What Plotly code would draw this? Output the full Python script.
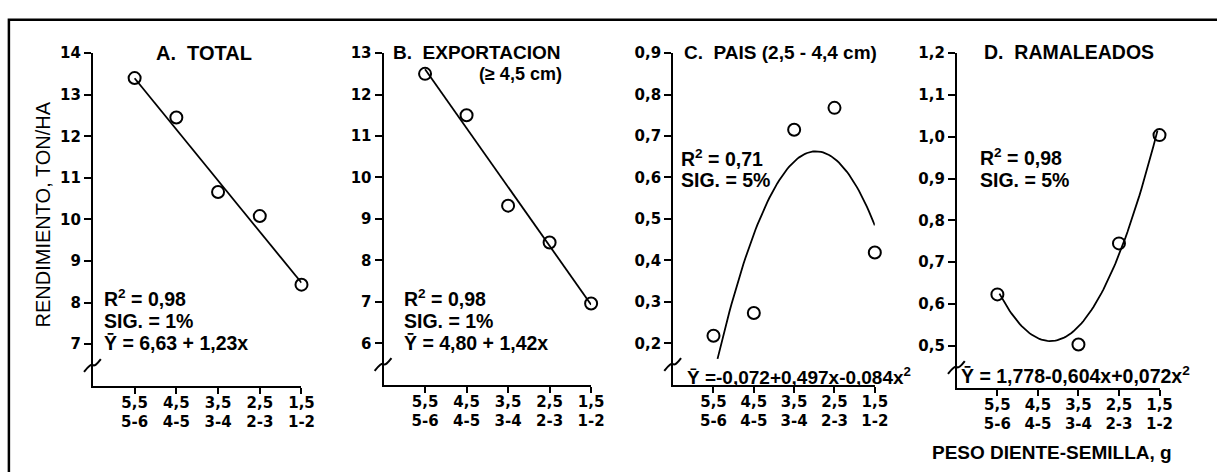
import numpy as np
import plotly.graph_objects as go

W, H = 1217, 472

# ---------------- data ----------------
weights = [5.5, 4.5, 3.5, 2.5, 1.5]
weight_labels = ["5,5", "4,5", "3,5", "2,5", "1,5"]
weight_ranges = ["5-6", "4-5", "3-4", "2-3", "1-2"]

total = [13.4, 12.45, 10.66, 10.08, 8.43]
exportacion = [12.5, 11.5, 9.32, 8.43, 6.96]
pais = [0.218, 0.273, 0.715, 0.768, 0.419]
ramaleados = [0.623, None, 0.503, 0.745, 1.004]

# regression coefficients printed on the chart (c0 + c1*x + c2*x^2)
fit_total = [6.63, 1.23]
fit_export = [4.80, 1.42]
fit_pais = [-0.072, 0.497, -0.084]
fit_ram = [1.778, -0.604, 0.072]
fit_spans = [(5.5, 1.5), (5.5, 1.5), (5.4, 1.5), (5.45, 1.55)]

yticks_total = [7, 8, 9, 10, 11, 12, 13, 14]
yticks_export = [6, 7, 8, 9, 10, 11, 12, 13]
yticks_pais = [0.2, 0.3, 0.4, 0.5, 0.6, 0.7, 0.8, 0.9]
yticks_ram = [0.5, 0.6, 0.7, 0.8, 0.9, 1.0, 1.1, 1.2]

panels = [
    dict(y=total, fit=fit_total, yticks=yticks_total, yrange=[6, 14], fmt="{:.0f}",
         box=(94, 305, 45, 384)),
    dict(y=exportacion, fit=fit_export, yticks=yticks_export, yrange=[5, 13], fmt="{:.0f}",
         box=(388, 598, 45, 383)),
    dict(y=pais, fit=fit_pais, yticks=yticks_pais, yrange=[0.1, 0.9], fmt="{:.1f}",
         box=(681, 885, 45, 383)),
    dict(y=ramaleados, fit=fit_ram, yticks=yticks_ram, yrange=[0.4, 1.2], fmt="{:.1f}",
         box=(968, 1173, 45, 386)),
]

FONT = "Liberation Sans"
TICKFONT = "DejaVu Sans"


def px(x):
    return x / W


def py(y):
    return 1 - y / H


fig = go.Figure()
layout = dict(
    width=W, height=H, margin=dict(l=0, r=0, t=0, b=0),
    paper_bgcolor="white", plot_bgcolor="white", showlegend=False,
    font=dict(family=FONT, color="black"),
)
shapes = []

for i, p in enumerate(panels):
    n = "" if i == 0 else str(i + 1)
    xa, ya = "x" + n, "y" + n
    x0, x1, yt, yb = p["box"]
    fig.add_trace(go.Scatter(
        x=weights, y=p["y"], xaxis=xa, yaxis=ya, mode="markers",
        marker=dict(symbol="circle-open", size=12, color="black",
                    line=dict(width=2, color="black")),
        cliponaxis=False, hoverinfo="skip"))
    xs = np.linspace(fit_spans[i][0], fit_spans[i][1], 80)
    ys = sum(c * xs ** k for k, c in enumerate(p["fit"]))
    fig.add_trace(go.Scatter(
        x=xs, y=ys, xaxis=xa, yaxis=ya, mode="lines",
        line=dict(color="black", width=1.8), cliponaxis=False, hoverinfo="skip"))
    layout["xaxis" + n] = dict(
        domain=[px(x0), px(x1)], range=[6.5, 1.5], anchor=ya,
        tickvals=weights,
        ticktext=[f"{a}<br>{b}" for a, b in zip(weight_labels, weight_ranges)],
        ticks="outside", ticklen=6, tickwidth=2, tickcolor="black",
        ticklabelstandoff=-4,
        showline=True, linewidth=2, linecolor="black",
        showgrid=False, zeroline=False,
        tickfont=dict(family=TICKFONT, size=15, color="black", weight="bold"),
    )
    layout["yaxis" + n] = dict(
        domain=[py(yb), py(yt)], range=p["yrange"], anchor=xa,
        tickvals=p["yticks"],
        ticktext=[p["fmt"].format(v).replace(".", ",") for v in p["yticks"]],
        ticks="outside", ticklen=7, tickwidth=2, tickcolor="black",
        showline=True, linewidth=2, linecolor="black",
        showgrid=False, zeroline=False,
        tickfont=dict(family=TICKFONT, size=15, color="black", weight="bold"),
    )
    # axis break mark
    bx, by = x0, yb - 21
    shapes.append(dict(
        type="path", xref="paper", yref="paper",
        path=f"M {px(bx-9)},{py(by+7)} Q {px(bx-2)},{py(by-2)} {px(bx)},{py(by)} T {px(bx+8)},{py(by-6)}",
        line=dict(color="black", width=2)))

# frame
shapes.append(dict(type="rect", xref="paper", yref="paper",
                   x0=px(9), x1=1.02, y0=-0.02, y1=py(11),
                   line=dict(color="black", width=2.5)))

ann = []


def txt(x, y, s, size=19.5, anchor="left", bold=True, family=FONT):
    ann.append(dict(x=px(x), y=py(y), xref="paper", yref="paper", text=s,
                    showarrow=False, xanchor=anchor, yanchor="middle",
                    font=dict(family=family, size=size, color="black",
                              weight="bold" if bold else "normal")))


# titles
txt(206, 45, "A.  TOTAL", 20, "center")
txt(396, 44, "B.  EXPORTACION", 19)
txt(571, 66, "(≥ 4,5 cm)", 18, "right")
txt(690, 44, "C.  PAIS (2,5 - 4,4 cm)", 19)
txt(993, 44, "D.  RAMALEADOS", 19.5)

# statistics
txt(103, 295, "R<sup>2</sup> = 0,98")
txt(103, 318, "SIG. = 1%")
txt(103, 341, "Ȳ = 6,63 + 1,23x")
txt(407, 295, "R<sup>2</sup> = 0,98")
txt(407, 318, "SIG. = 1%")
txt(407, 341, "Ȳ = 4,80 + 1,42x")
txt(687, 152, "R<sup>2</sup> = 0,71")
txt(687, 174, "SIG. = 5%")
txt(693, 374, "Ȳ =-0,072+0,497x-0,084x<sup>2</sup>", 19)
txt(970, 373, "Ȳ = 1,778-0,604x+0,072x<sup>2</sup>", 19.5)
txt(989, 151, "R<sup>2</sup> = 0,98")
txt(989, 174, "SIG. = 5%")

# axis titles
ann.append(dict(x=px(43), y=py(210), xref="paper", yref="paper",
                text="RENDIMIENTO, TON/HA", textangle=-90, showarrow=False,
                xanchor="center", yanchor="middle",
                font=dict(family=FONT, size=20, color="black")))
txt(1064, 452, "PESO DIENTE-SEMILLA, g", 19, "center")

layout["annotations"] = ann
layout["shapes"] = shapes
fig.update_layout(**layout)
fig.write_html(
    "out.html",
    config={"displayModeBar": False},
    post_script="document.body.style.margin='0';document.body.style.overflow='hidden';",
)
